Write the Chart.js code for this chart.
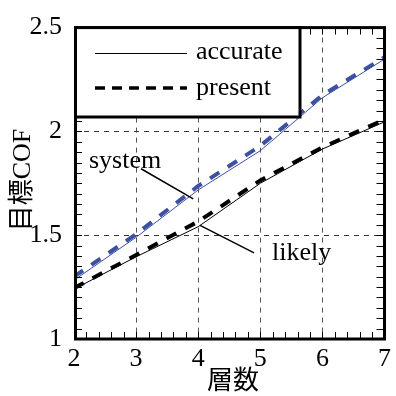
<!DOCTYPE html>
<html>
<head>
<meta charset="utf-8">
<script src="https://cdn.jsdelivr.net/npm/chart.js@4.4.0/dist/chart.umd.min.js"></script>
<style>
  html, body { margin: 0; padding: 0; background: #fff; }
  #wrap { width: 396px; height: 396px; }
</style>
</head>
<body>
<div id="wrap"><canvas id="myChart" width="396" height="396"></canvas></div>
<script>
// data
const layers = [2, 3, 4, 5, 6, 7];
const systemAccurate = [1.283, 1.49, 1.718, 1.907, 2.162, 2.348];
const systemPresent = [1.30, 1.505, 1.737, 1.93, 2.175, 2.357];
const likelyAccurate = [1.24, 1.396, 1.541, 1.75, 1.915, 2.046];
const likelyPresent = [1.245, 1.405, 1.566, 1.764, 1.923, 2.057];
const xTicks = [2, 3, 4, 5, 6, 7];
const yTicks = [1, 1.5, 2, 2.5];
const legendLabels = ['accurate', 'present'];

const SERIF = "'Liberation Serif', 'Noto Sans CJK JP', serif";
const BLUE = '#3d51a3';

function pts(ys) {
  return layers.map((x, i) => ({ x: x, y: ys[i] }));
}

// frame, minor ticks, legend box, annotations and axis titles
const decorations = {
  id: 'decorations',
  afterDatasetsDraw(chart) {
    const { ctx, chartArea: a, scales } = chart;
    const xs = scales.x, ys = scales.y;
    ctx.save();

    // inward ticks
    ctx.strokeStyle = '#000';
    ctx.lineWidth = 1;
    ctx.beginPath();
    for (let v = 2; v <= 7.001; v += 0.2) {
      const px = Math.round(xs.getPixelForValue(v)) + 0.5;
      ctx.moveTo(px, a.bottom); ctx.lineTo(px, a.bottom - 7);
      ctx.moveTo(px, a.top); ctx.lineTo(px, a.top + 7);
    }
    for (let v = 1; v <= 2.501; v += 0.05) {
      const py = Math.round(ys.getPixelForValue(v)) + 0.5;
      ctx.moveTo(a.left, py); ctx.lineTo(a.left + 8, py);
      ctx.moveTo(a.right, py); ctx.lineTo(a.right - 8, py);
    }
    ctx.stroke();

    // frame
    ctx.lineWidth = 3;
    ctx.strokeRect(a.left + 1.5, a.top, a.right - a.left - 1.5, a.bottom - a.top);

    // legend box
    const lx = a.left + 1.5, ly = a.top, lw = 300 - lx, lh = 117 - ly;
    ctx.fillStyle = '#fff';
    ctx.fillRect(lx, ly, lw, lh);
    ctx.strokeRect(lx, ly, lw, lh);

    ctx.lineWidth = 1;
    ctx.beginPath();
    ctx.moveTo(95, 53.5); ctx.lineTo(187, 53.5);
    ctx.stroke();
    ctx.lineWidth = 3.5;
    ctx.setLineDash([10, 7]);
    ctx.beginPath();
    ctx.moveTo(95, 88); ctx.lineTo(187, 88);
    ctx.stroke();
    ctx.setLineDash([]);

    ctx.fillStyle = '#000';
    ctx.font = '26px ' + SERIF;
    ctx.textAlign = 'left';
    ctx.textBaseline = 'middle';
    ctx.fillText(legendLabels[0], 196, 52);
    ctx.fillText(legendLabels[1], 196, 88);

    // annotations with leader lines
    ctx.fillText('system', 89, 161);
    ctx.fillText('likely', 272, 253);
    ctx.lineWidth = 1.5;
    ctx.beginPath();
    ctx.moveTo(xs.getPixelForValue(3.08), ys.getPixelForValue(1.82));
    ctx.lineTo(xs.getPixelForValue(3.92), ys.getPixelForValue(1.675));
    ctx.moveTo(xs.getPixelForValue(4.03), ys.getPixelForValue(1.547));
    ctx.lineTo(xs.getPixelForValue(4.9), ys.getPixelForValue(1.415));
    ctx.stroke();

    // axis titles
    ctx.textAlign = 'center';
    ctx.fillText('層数', 233, 382);
    ctx.translate(23, 180);
    ctx.rotate(-Math.PI / 2);
    ctx.fillText('目標COF', 0, 0);
    ctx.restore();
  }
};

document.addEventListener('DOMContentLoaded', function () {
  const ctx = document.getElementById('myChart').getContext('2d');
  const myChart = new Chart(ctx, {
    type: 'line',
    data: {
      datasets: [
        { label: 'system accurate', data: pts(systemAccurate), borderColor: BLUE, borderWidth: 1 },
        { label: 'system present', data: pts(systemPresent), borderColor: BLUE, borderWidth: 4, borderDash: [11, 10] },
        { label: 'likely accurate', data: pts(likelyAccurate), borderColor: '#000', borderWidth: 1 },
        { label: 'likely present', data: pts(likelyPresent), borderColor: '#000', borderWidth: 4, borderDash: [11, 10] }
      ]
    },
    options: {
      responsive: false,
      animation: false,
      layout: { padding: { top: 22, right: 2, left: 0, bottom: 0 } },
      elements: { point: { radius: 0 }, line: { tension: 0, fill: false } },
      plugins: { legend: { display: false }, tooltip: { enabled: false } },
      scales: {
        x: {
          type: 'linear',
          min: 2, max: 7,
          afterFit: s => { s.height = 57; },
          afterBuildTicks: s => { s.ticks = xTicks.map(v => ({ value: v })); },
          ticks: { color: '#000', padding: 5, font: { family: SERIF, size: 26 }, maxRotation: 0, callback: v => String(v) },
          grid: {
            drawTicks: false,
            lineWidth: 1,
            color: c => (c.tick && (c.tick.value === 2 || c.tick.value === 7)) ? 'rgba(0,0,0,0)' : '#555'
          },
          border: { display: false, dash: [5, 5] }
        },
        y: {
          min: 1, max: 2.5,
          afterFit: s => { s.width = 74; },
          afterBuildTicks: s => { s.ticks = yTicks.map(v => ({ value: v })); },
          ticks: { color: '#000', padding: 12, font: { family: SERIF, size: 26 }, callback: v => String(v) },
          grid: {
            drawTicks: false,
            lineWidth: 1,
            color: c => (c.tick && (c.tick.value === 1 || c.tick.value === 2.5)) ? 'rgba(0,0,0,0)' : '#333'
          },
          border: { display: false, dash: [5, 5] }
        }
      }
    },
    plugins: [decorations]
  });
});
</script>
</body>
</html>
